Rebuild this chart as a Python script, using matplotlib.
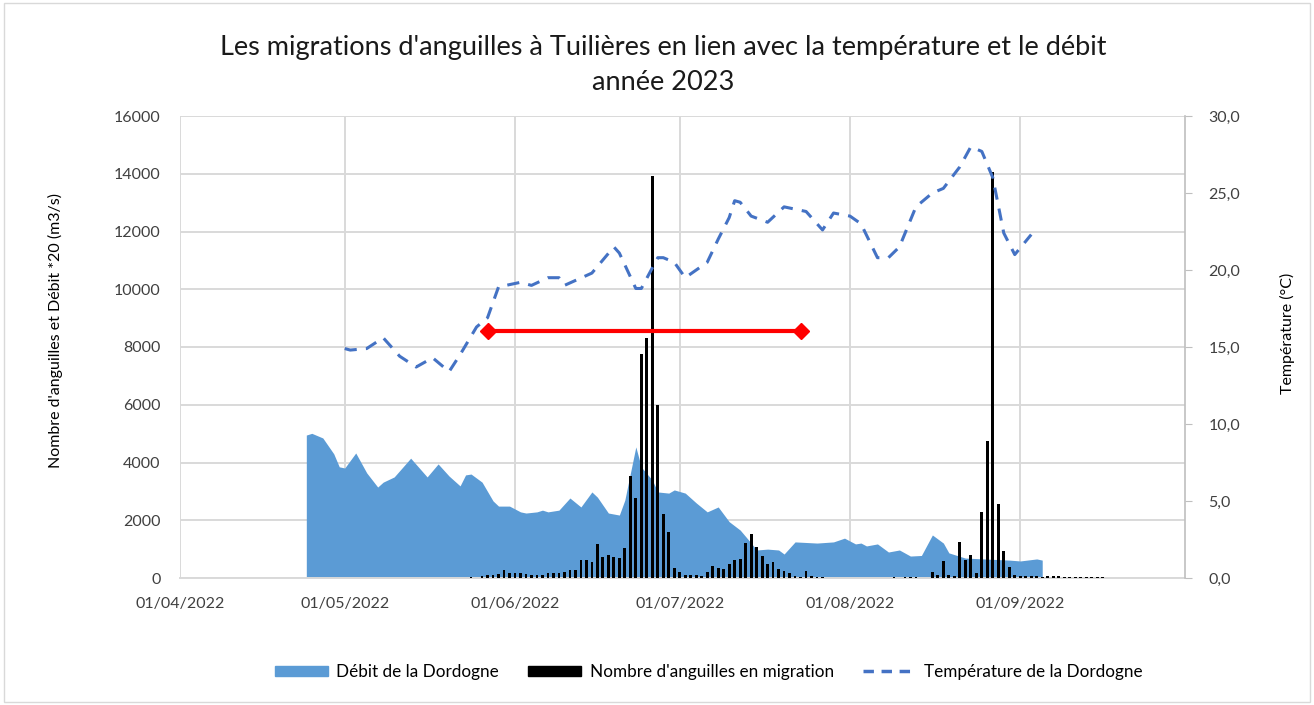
import pandas as pd
import matplotlib
matplotlib.use("Agg")
import matplotlib.pyplot as plt
import matplotlib.dates as mdates
from matplotlib.patches import Patch, Rectangle
from matplotlib.lines import Line2D
from matplotlib.ticker import FuncFormatter

plt.rcParams['font.family'] = ['Lato', 'DejaVu Sans']

# débit de la Dordogne (x20, m3/s)
flow_dates = ["2022-04-24", "2022-04-25", "2022-04-27", "2022-04-29", "2022-04-30",
              "2022-05-01", "2022-05-03", "2022-05-05", "2022-05-07", "2022-05-08",
              "2022-05-10", "2022-05-13", "2022-05-16", "2022-05-18", "2022-05-20",
              "2022-05-22", "2022-05-23", "2022-05-24", "2022-05-26", "2022-05-28",
              "2022-05-29", "2022-05-31", "2022-06-02", "2022-06-03", "2022-06-05",
              "2022-06-06", "2022-06-07", "2022-06-09", "2022-06-11", "2022-06-13",
              "2022-06-15", "2022-06-16", "2022-06-18", "2022-06-20", "2022-06-21",
              "2022-06-23", "2022-06-24", "2022-06-26", "2022-06-27", "2022-06-29",
              "2022-06-30", "2022-07-02", "2022-07-04", "2022-07-06", "2022-07-08",
              "2022-07-10", "2022-07-12", "2022-07-14", "2022-07-15", "2022-07-17",
              "2022-07-19", "2022-07-20", "2022-07-22", "2022-07-26", "2022-07-29",
              "2022-07-31", "2022-08-02", "2022-08-03", "2022-08-04", "2022-08-06",
              "2022-08-08", "2022-08-10", "2022-08-12", "2022-08-14", "2022-08-16",
              "2022-08-18", "2022-08-19", "2022-08-22", "2022-08-30", "2022-09-01",
              "2022-09-04", "2022-09-05"]
flow_values = [4950, 5010, 4850, 4300, 3850,
               3810, 4330, 3640, 3150, 3320,
               3500, 4150, 3500, 3950, 3530,
               3190, 3570, 3600, 3320, 2670,
               2490, 2490, 2290, 2250, 2290,
               2350, 2290, 2350, 2770, 2460,
               2980, 2800, 2250, 2180, 2700,
               4540, 3840, 3390, 2980, 2940,
               3050, 2940, 2600, 2290, 2460,
               1950, 1660, 1210, 970, 1000,
               970, 830, 1250, 1210, 1250,
               1380, 1180, 1210, 1110, 1180,
               900, 970, 760, 780, 1490,
               1210, 870, 690, 620, 590,
               660, 620]

# température de la Dordogne (°C)
temp_dates = ["2022-05-01", "2022-05-02", "2022-05-05", "2022-05-08", "2022-05-11",
              "2022-05-14", "2022-05-17", "2022-05-20", "2022-05-22", "2022-05-25",
              "2022-05-27", "2022-05-29", "2022-06-02", "2022-06-04", "2022-06-07",
              "2022-06-09", "2022-06-10", "2022-06-15", "2022-06-19", "2022-06-20",
              "2022-06-23", "2022-06-24", "2022-06-27", "2022-06-28", "2022-06-30",
              "2022-07-02", "2022-07-06", "2022-07-08", "2022-07-10", "2022-07-11",
              "2022-07-12", "2022-07-14", "2022-07-17", "2022-07-20", "2022-07-24",
              "2022-07-27", "2022-07-29", "2022-08-01", "2022-08-03", "2022-08-06",
              "2022-08-08", "2022-08-10", "2022-08-13", "2022-08-16", "2022-08-18",
              "2022-08-21", "2022-08-23", "2022-08-25", "2022-08-27", "2022-08-29",
              "2022-08-31", "2022-09-03"]
temp_values = [14.9, 14.8, 14.9, 15.6, 14.4,
               13.7, 14.3, 13.4, 14.5, 16.3,
               16.9, 18.9, 19.2, 19.0, 19.5,
               19.5, 19.0, 19.8, 21.5, 21.1,
               18.8, 18.8, 20.8, 20.8, 20.5,
               19.5, 20.5, 22.0, 23.4, 24.5,
               24.4, 23.5, 23.1, 24.1, 23.8,
               22.6, 23.7, 23.5, 23.0, 20.8,
               20.8, 21.5, 24.1, 25.0, 25.3,
               26.7, 28.0, 27.7, 26.0, 22.4,
               21.0, 22.3]

# nombre d'anguilles en migration, un comptage par jour
eel_start = "2022-05-24"
eel_counts = [50, 0, 60, 100, 120, 140, 270, 190, 170, 170,
              150, 120, 100, 110, 170, 170, 180, 210, 260, 280,
              620, 620, 560, 1180, 720, 800, 720, 690, 1040, 3530,
              2770, 7760, 8310, 13920, 5990, 2220, 1600, 350, 210, 100,
              100, 100, 80, 200, 400, 360, 310, 480, 620, 660,
              1210, 1520, 1070, 760, 480, 550, 310, 250, 160, 80,
              50, 250, 80, 50, 40, 0, 0, 0, 0, 0,
              0, 0, 0, 0, 0, 0, 0, 20, 0, 20,
              20, 20, 0, 0, 200, 110, 580, 110, 80, 1250,
              610, 790, 170, 2290, 4760, 14060, 2560, 950, 370, 90,
              80, 80, 60, 60, 30, 60, 60, 60, 25, 25,
              30, 30, 50, 25, 25, 25]

seuil_dates = ["2022-05-27", "2022-07-23"]
seuil_value = 8550

month_ticks = ["2022-04-01", "2022-05-01", "2022-06-01", "2022-07-01",
               "2022-08-01", "2022-09-01"]

flow_x = pd.to_datetime(flow_dates)
temp_x = pd.to_datetime(temp_dates)
eel_x = pd.date_range(eel_start, periods=len(eel_counts), freq="D")

grid_c = "#d9d9d9"
txt_c = "#404040"

fig = plt.figure(figsize=(13.14, 7.05), dpi=100)
ax = fig.add_axes([180 / 1314, 1 - 578 / 705, 1005 / 1314, 462 / 705])

ax.fill_between(flow_x, flow_values, color="#5b9bd5", lw=0, zorder=2)
ax.bar(eel_x, eel_counts, width=0.5, color="black", zorder=3)
ax.plot(pd.to_datetime(seuil_dates), [seuil_value] * 2, color="#ff0000", lw=3,
        marker="D", ms=8, zorder=6, clip_on=False)

ax.set_xlim(pd.Timestamp("2022-04-01"), pd.Timestamp("2022-10-01"))
ax.set_ylim(0, 16000)
ax.set_yticks(range(0, 16001, 2000))
ax.set_xticks(pd.to_datetime(month_ticks))
ax.xaxis.set_major_formatter(mdates.DateFormatter("%d/%m/%Y"))
ax.grid(True, color=grid_c, lw=1.4)
ax.set_axisbelow(True)
ax.tick_params(axis="both", length=0, labelsize=11.5, colors=txt_c)
ax.tick_params(axis="y", pad=14)
ax.tick_params(axis="x", pad=14)
for s in ["top", "right", "left"]:
    ax.spines[s].set_visible(False)
ax.spines["bottom"].set_color(grid_c)
ax.spines["bottom"].set_linewidth(1.4)
ax.set_ylabel("Nombre d'anguilles et Débit *20 (m3/s)", fontsize=11.5, color="black")
ax.yaxis.set_label_coords(-0.116, 0.535)

ax2 = ax.twinx()
ax2.plot(temp_x, temp_values, color="#4472c4", lw=2.2, dashes=(4, 3), zorder=5)
ax2.set_ylim(0, 30)
ax2.set_yticks(range(0, 31, 5))
ax2.yaxis.set_major_formatter(FuncFormatter(lambda v, p: f"{v:.1f}".replace(".", ",")))
ax2.tick_params(axis="y", length=5, color="#bfbfbf", labelsize=11.5, colors=txt_c, pad=12)
ax2.tick_params(axis="y", color="#bfbfbf")
for s in ["top", "left", "bottom"]:
    ax2.spines[s].set_visible(False)
ax2.spines["right"].set_color("#bfbfbf")
ax2.spines["right"].set_linewidth(1.2)
ax2.set_ylabel("Température (°C)", fontsize=11.5, color="black")
ax2.yaxis.set_label_coords(1.094, 0.53)

fig.text(0.505, 1 - 47 / 705, "Les migrations d'anguilles à Tuilières en lien avec la température et le débit",
         ha="center", va="center", fontsize=19.5, color="#1a1a1a")
fig.text(0.505, 1 - 83 / 705, "année 2023", ha="center", va="center", fontsize=19.5, color="#1a1a1a")

handles = [Patch(color="#5b9bd5"), Patch(color="black"),
           Line2D([], [], color="#4472c4", lw=2.5, dashes=(3, 2.2))]
labels = ["Débit de la Dordogne", "Nombre d'anguilles en migration", "Température de la Dordogne"]
fig.legend(handles, labels, loc="center", bbox_to_anchor=(709 / 1314, 1 - 672 / 705),
           ncol=3, frameon=False, fontsize=12.3, handlelength=3.1, handletextpad=0.5,
           columnspacing=1.7, handleheight=0.6)

fig.patches.append(Rectangle((0.003, 0.004), 0.994, 0.992, transform=fig.transFigure,
                             fill=False, ec=grid_c, lw=1))

fig.savefig("out.png", dpi=100)
